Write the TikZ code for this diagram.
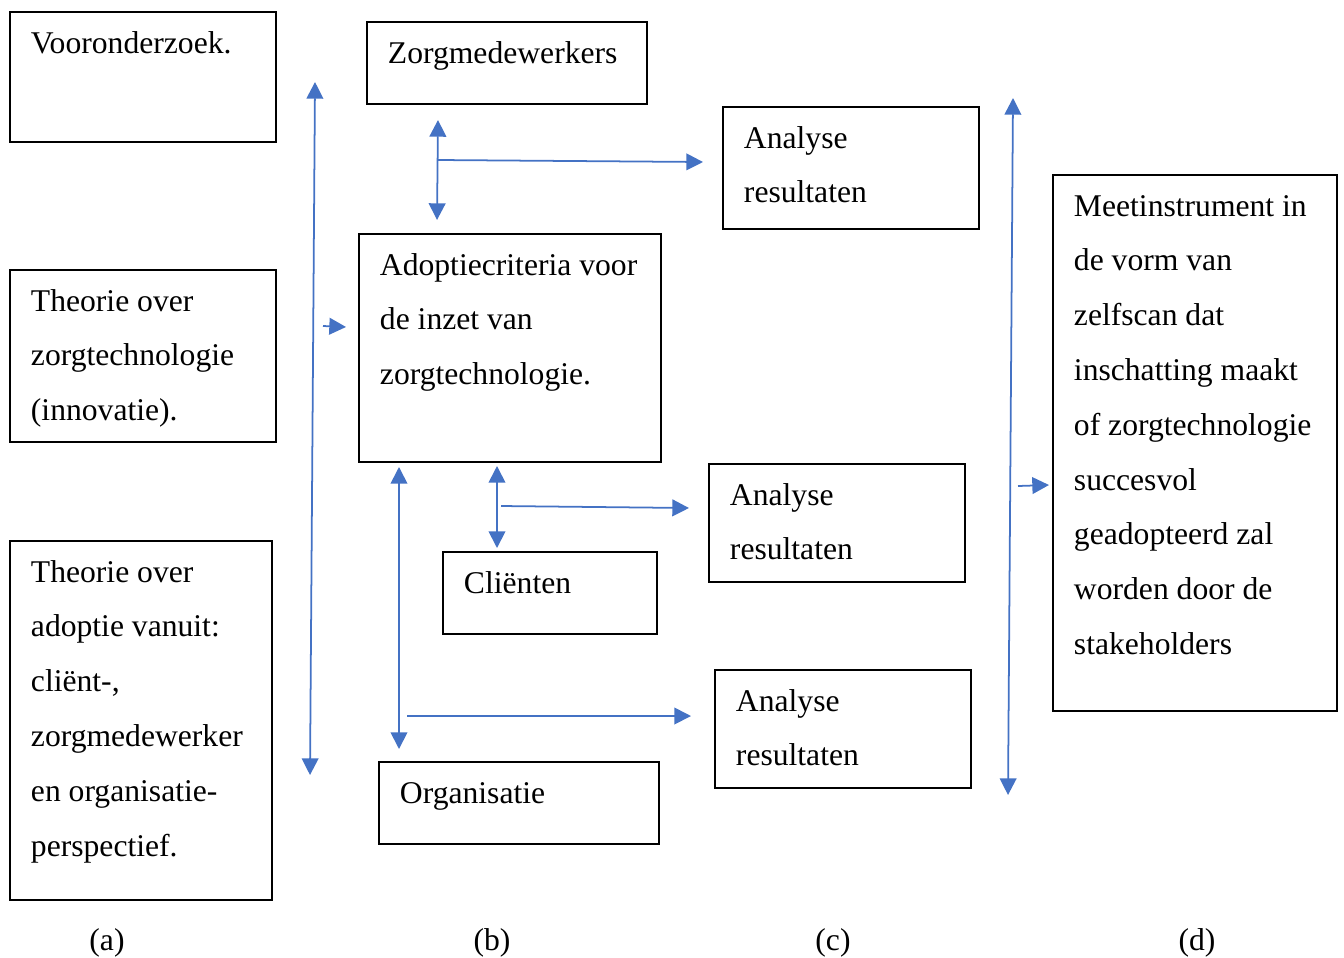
\documentclass[tikz,border=0pt]{standalone}
\usepackage{fontspec}
\setmainfont{Liberation Serif}
\usetikzlibrary{arrows.meta}
\definecolor{arrblue}{RGB}{68,114,196}
\newcommand{\boxtxt}[3]{\begin{minipage}[t][#2][t]{#1}\rule{0pt}{23.4pt}#3\end{minipage}}

\begin{document}
\begin{tikzpicture}[x=0.02cm, y=-0.02cm,
    box/.style={rectangle, draw, line width=1.1pt, anchor=north west, inner xsep=0.42cm, inner ysep=0pt, font=\fontsize{18}{31.2}\selectfont},
    arr/.style={-{Triangle[length=9.5pt,width=9.5pt]}, arrblue, line width=1pt},
    biarr/.style={{Triangle[length=9.5pt,width=9.5pt]}-{Triangle[length=9.5pt,width=9.5pt]}, arrblue, line width=1pt},
    lbl/.style={font=\fontsize{18}{22}\selectfont},
]
\useasboundingbox (0,0) rectangle (1344,957);

% column (a)
\node[box] (voor) at (9,11) {\boxtxt{4.48cm}{2.6cm}{Vooronderzoek.}};
\node[box] (thzt) at (9,269) {\boxtxt{4.48cm}{3.44cm}{Theorie over\\zorgtechnologie\\(innovatie).}};
\node[box] (thad) at (9,540) {\boxtxt{4.4cm}{7.18cm}{Theorie over\\adoptie vanuit:\\cliënt-,\\zorgmedewerker\\en organisatie-\\perspectief.}};

% column (b)
\node[box] (zorg) at (366,21) {\boxtxt{4.76cm}{1.64cm}{Zorgmedewerkers}};
\node[box] (adop) at (358,233) {\boxtxt{5.2cm}{4.56cm}{Adoptiecriteria voor\\de inzet van\\zorgtechnologie.}};
\node[box] (clie) at (442,551) {\boxtxt{3.44cm}{1.64cm}{Cliënten}};
\node[box] (orga) at (378,761) {\boxtxt{4.76cm}{1.64cm}{Organisatie}};

% column (c)
\node[box] (ana1) at (722,106) {\boxtxt{4.28cm}{2.44cm}{Analyse\\resultaten}};
\node[box] (ana2) at (708,463) {\boxtxt{4.28cm}{2.36cm}{Analyse\\resultaten}};
\node[box] (ana3) at (714,669) {\boxtxt{4.28cm}{2.36cm}{Analyse\\resultaten}};

% column (d)
\node[box] (meet) at (1052,174) {\boxtxt{4.84cm}{10.72cm}{Meetinstrument in\\de vorm van\\zelfscan dat\\inschatting maakt\\of zorgtechnologie\\succesvol\\geadopteerd zal\\worden door de\\stakeholders}};

% arrows
\coordinate (la1) at (315,82); \coordinate (la2) at (310,775);
\coordinate (la3) at (323,326); \coordinate (la4) at (346,327);
\draw[biarr] (la1) -- (la2);
\draw[arr] (la3) -- (la4);

\coordinate (zv1) at (438,120); \coordinate (zv2) at (437,220);
\coordinate (zh1) at (438,160); \coordinate (zh2) at (703,162);
\draw[biarr] (zv1) -- (zv2);
\draw[arr] (zh1) -- (zh2);

\coordinate (cv1) at (497,466); \coordinate (cv2) at (497,548);
\coordinate (ch1) at (501,506); \coordinate (ch2) at (689,508);
\draw[biarr] (cv1) -- (cv2);
\draw[arr] (ch1) -- (ch2);

\coordinate (ov1) at (399,467); \coordinate (ov2) at (399,749);
\coordinate (oh1) at (407,716); \coordinate (oh2) at (691,716);
\draw[biarr] (ov1) -- (ov2);
\draw[arr] (oh1) -- (oh2);

\coordinate (ra1) at (1013,98); \coordinate (ra2) at (1008,795);
\coordinate (ra3) at (1018,486); \coordinate (ra4) at (1049,485);
\draw[biarr] (ra1) -- (ra2);
\draw[arr] (ra3) -- (ra4);

% labels
\node[lbl] (la) at (107,943) {(a)};
\node[lbl] (lb) at (492,943) {(b)};
\node[lbl] (lc) at (833,943) {(c)};
\node[lbl] (ld) at (1197,943) {(d)};
\end{tikzpicture}
\end{document}
